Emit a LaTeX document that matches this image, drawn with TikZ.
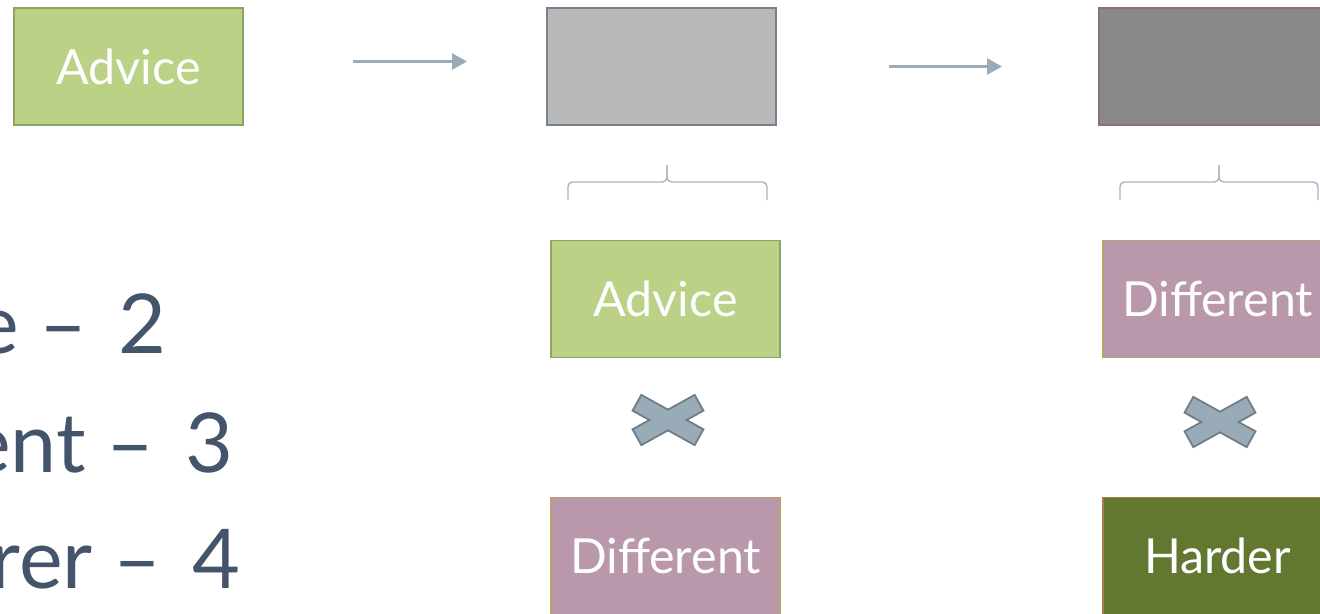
\documentclass[tikz,border=0pt]{standalone}
\usepackage{fontspec}
\setmainfont{Lato}
\usetikzlibrary{arrows.meta}
\definecolor{advgreen}{HTML}{BBD186}
\definecolor{advline}{HTML}{8FA463}
\definecolor{midgray}{HTML}{B9B9B9}
\definecolor{midline}{HTML}{76828E}
\definecolor{darkgray}{HTML}{898989}
\definecolor{darkline}{HTML}{8A6F7E}
\definecolor{difpink}{HTML}{BA98AC}
\definecolor{difline}{HTML}{B4A56A}
\definecolor{hardgreen}{HTML}{627830}
\definecolor{hardline}{HTML}{A87B4E}
\definecolor{slate}{HTML}{9AABB8}
\definecolor{slateline}{HTML}{6E7D89}
\definecolor{bracecol}{HTML}{A7B5C1}
\definecolor{txtcol}{HTML}{44546A}
\tikzset{
  card/.style={draw,line width=1.1pt,minimum width=4.58cm,minimum height=2.34cm,
    text=white,font=\fontsize{27.5}{30}\selectfont},
  flow/.style={slate,line width=1.6pt,-{Triangle[length=8.5pt,width=9pt]}},
  score/.style={txtcol,anchor=base east,font=\fontsize{47}{52}\selectfont},
}
\begin{document}
\begin{tikzpicture}[x=0.02cm,y=-0.02cm]
\useasboundingbox (0,0) rectangle (1320,613);
\clip (0,0) rectangle (1320,613);
% top row
\node[card,fill=advgreen,draw=advline] (adv) at (128.5,66.5) {Advice};
\node[card,fill=midgray,draw=midline] (mix1) at (661.5,66.5) {};
\node[card,fill=darkgray,draw=darkline] (mix2) at (1213.5,66.5) {};
\draw[flow,shorten <=2.18cm,shorten >=1.58cm] ([yshift=0.1cm]adv.east) -- ([yshift=0.1cm]mix1.west);
\draw[flow,shorten <=2.24cm,shorten >=1.92cm] (mix1) -- (mix2);
% what goes into each mix
\node[card,fill=advgreen,draw=advline] (adv2) at (665.5,299) {Advice};
\node[card,fill=difpink,draw=difline] (dif1) at (665.5,556) {Different};
\node[card,fill=difpink,draw=difline] (dif2) at (1217.5,299) {Different};
\node[card,fill=hardgreen,draw=hardline] (hard) at (1217.5,556) {Harder};
\foreach \l/\m/\r in {568/667/767,1120/1219/1318}{
\draw[bracecol,line width=0.8pt,rounded corners=0.09cm] (\l,200) -- (\l,182) -- (\m,182) -- (\m,165);
\draw[bracecol,line width=0.8pt,rounded corners=0.09cm] (\r,200) -- (\r,182) -- (\m,182) -- (\m,165);
}
% crosses between the pairs
\foreach \cx/\cy in {668/420,1220/422}{
\begin{scope}[shift={(\cx,\cy)}]
\foreach \a in {29,-29}{\draw[slateline,line width=2.2pt,rotate=\a] (-34.5,-8) rectangle (34.5,8);}
\foreach \a in {29,-29}{\fill[slate,rotate=\a] (-34.5,-8) rectangle (34.5,8);}
\end{scope}
}
% scores
\node[score] (s2) at (173,353) {e –\hspace{0.12em} 2};
\node[score] (s3) at (240,472) {ent –\hspace{0.12em} 3};
\node[score] (s4) at (247,588) {erer –\hspace{0.12em} 4};
\end{tikzpicture}
\end{document}
